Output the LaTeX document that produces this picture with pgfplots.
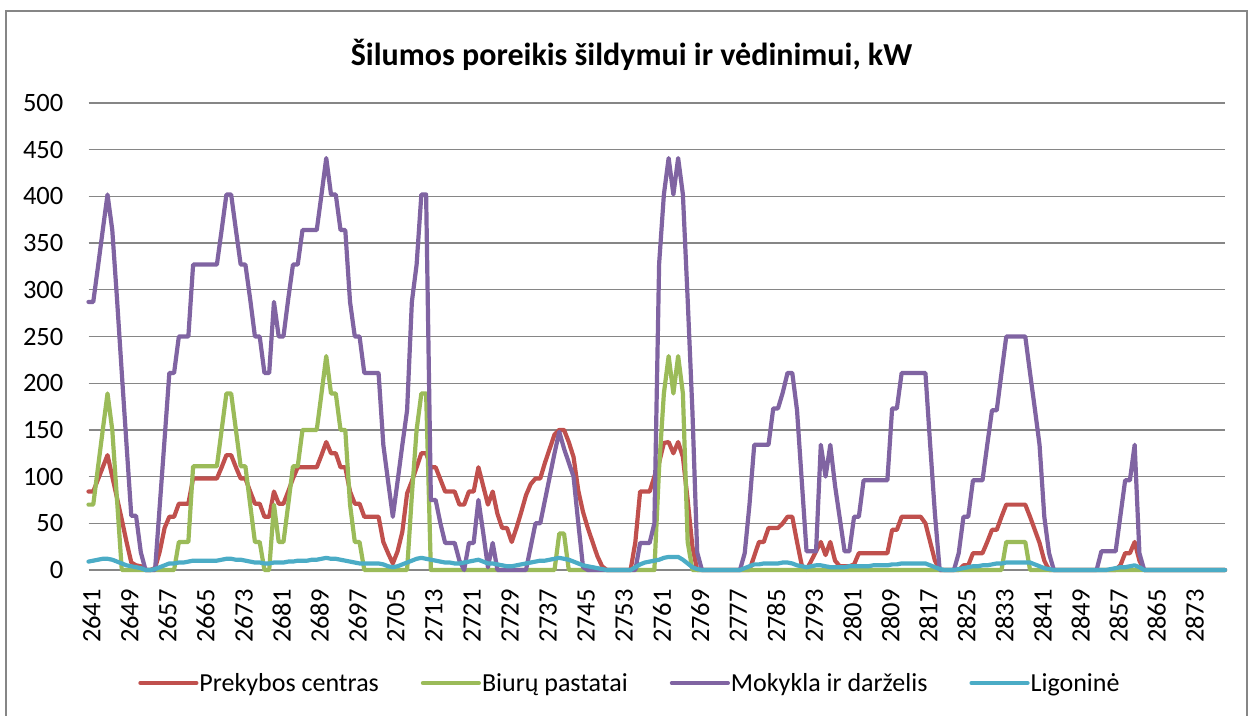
\documentclass[border=0pt]{standalone}
\usepackage{pgfplots}
\pgfplotsset{compat=1.18}
\usepackage{pgfplotstable}
\usepackage{fontspec}
\setmainfont{Carlito}
\definecolor{cRed}{HTML}{C0504D}
\definecolor{cGreen}{HTML}{9BBB59}
\definecolor{cPurple}{HTML}{8064A2}
\definecolor{cCyan}{HTML}{4BACC6}
\definecolor{cGrid}{HTML}{868686}

\pgfplotstableread{
n r g p c
2641 84 70 287 9
2642 84 70 287 10
2643 97 110 325 11
2644 110 150 364 12
2645 123 189 402 12
2646 100 150 364 11
2647 77 75 290 9
2648 54 0 211 7
2649 30 0 134 5
2650 8 0 58 4
2651 5 0 58 3
2652 4 0 19 2
2653 0 0 0 0
2654 0 0 0 0
2655 2 0 0 1
2656 20 0 70 3
2657 45 0 140 5
2658 57 0 211 7
2659 57 0 211 7
2660 71 30 250 8
2661 71 30 250 8
2662 71 30 250 9
2663 98 111 327 10
2664 98 111 327 10
2665 98 111 327 10
2666 98 111 327 10
2667 98 111 327 10
2668 98 111 327 10
2669 110 150 364 11
2670 123 189 402 12
2671 123 189 402 12
2672 110 150 364 11
2673 98 111 327 11
2674 98 111 327 10
2675 84 70 290 9
2676 71 30 250 8
2677 71 30 250 8
2678 57 0 211 7
2679 57 0 211 7
2680 84 70 287 8
2681 71 30 250 8
2682 71 30 250 8
2683 84 70 290 9
2684 98 111 327 9
2685 110 111 327 10
2686 110 150 364 10
2687 110 150 364 10
2688 110 150 364 11
2689 110 150 364 11
2690 123 189 402 12
2691 137 229 441 13
2692 125 189 402 12
2693 125 189 402 12
2694 110 150 364 11
2695 110 150 364 10
2696 84 70 287 9
2697 71 30 250 8
2698 71 30 250 7
2699 57 0 211 7
2700 57 0 211 7
2701 57 0 211 7
2702 57 0 211 7
2703 30 0 134 6
2704 18 0 95 4
2705 7 0 57 3
2706 20 0 95 4
2707 41 0 134 6
2708 82 0 171 8
2709 95 80 287 10
2710 110 150 327 12
2711 125 189 402 13
2712 125 189 402 12
2713 110 0 75 11
2714 110 0 75 10
2715 97 0 50 9
2716 84 0 29 8
2717 84 0 29 8
2718 84 0 29 7
2719 70 0 10 7
2720 70 0 0 8
2721 84 0 29 9
2722 84 0 29 10
2723 110 0 75 11
2724 90 0 40 9
2725 70 0 3 7
2726 84 0 29 7
2727 60 0 0 6
2728 45 0 0 5
2729 45 0 0 4
2730 30 0 0 4
2731 45 0 0 5
2732 62 0 0 6
2733 80 0 0 7
2734 92 0 25 8
2735 98 0 50 9
2736 98 0 50 10
2737 115 0 75 10
2738 130 0 100 11
2739 145 0 125 12
2740 150 39 148 13
2741 150 39 130 12
2742 137 0 115 11
2743 121 0 100 9
2744 85 0 50 7
2745 62 0 3 5
2746 45 0 0 4
2747 30 0 0 3
2748 15 0 0 2
2749 4 0 0 1
2750 0 0 0 0
2751 0 0 0 0
2752 0 0 0 0
2753 0 0 0 0
2754 0 0 0 0
2755 0 0 0 0
2756 30 0 0 3
2757 84 0 29 6
2758 84 0 29 8
2759 84 0 29 9
2760 100 0 50 10
2761 115 110 328 11
2762 136 189 402 13
2763 137 229 441 14
2764 125 189 402 14
2765 137 229 441 14
2766 121 189 402 11
2767 75 30 290 7
2768 25 0 170 3
2769 0 0 19 1
2770 0 0 0 0
2771 0 0 0 0
2772 0 0 0 0
2773 0 0 0 0
2774 0 0 0 0
2775 0 0 0 0
2776 0 0 0 0
2777 0 0 0 0
2778 0 0 0 0
2779 0 0 18 2
2780 0 0 70 4
2781 15 0 134 6
2782 30 0 134 6
2783 30 0 134 7
2784 45 0 134 7
2785 45 0 173 7
2786 45 0 173 7
2787 50 0 190 8
2788 57 0 211 8
2789 57 0 211 7
2790 30 0 171 5
2791 5 0 95 4
2792 0 0 20 3
2793 10 0 20 4
2794 20 0 20 5
2795 30 0 134 5
2796 16 0 100 4
2797 30 0 134 3
2798 10 0 90 3
2799 4 0 55 3
2800 4 0 20 3
2801 4 0 20 4
2802 6 0 57 4
2803 18 0 57 4
2804 18 0 96 4
2805 18 0 96 4
2806 18 0 96 5
2807 18 0 96 5
2808 18 0 96 5
2809 18 0 96 5
2810 43 0 173 6
2811 43 0 173 6
2812 57 0 211 7
2813 57 0 211 7
2814 57 0 211 7
2815 57 0 211 7
2816 57 0 211 7
2817 50 0 211 7
2818 30 0 134 5
2819 10 0 60 3
2820 0 0 0 1
2821 0 0 0 0
2822 0 0 0 0
2823 0 0 0 0
2824 0 0 18 1
2825 5 0 57 2
2826 5 0 57 3
2827 18 0 96 4
2828 18 0 96 4
2829 18 0 96 5
2830 30 0 134 5
2831 43 0 171 6
2832 43 0 171 7
2833 57 0 211 7
2834 70 30 250 8
2835 70 30 250 8
2836 70 30 250 8
2837 70 30 250 8
2838 70 30 250 8
2839 57 0 211 8
2840 43 0 173 6
2841 29 0 134 4
2842 10 0 57 2
2843 0 0 18 1
2844 0 0 0 0
2845 0 0 0 0
2846 0 0 0 0
2847 0 0 0 0
2848 0 0 0 0
2849 0 0 0 0
2850 0 0 0 0
2851 0 0 0 0
2852 0 0 0 0
2853 0 0 0 0
2854 0 0 20 0
2855 0 0 20 0
2856 0 0 20 1
2857 0 0 20 2
2858 5 0 58 3
2859 18 0 96 3
2860 18 0 96 4
2861 30 0 134 5
2862 10 0 18 3
2863 0 0 0 0
2864 0 0 0 0
2865 0 0 0 0
2866 0 0 0 0
2867 0 0 0 0
2868 0 0 0 0
2869 0 0 0 0
2870 0 0 0 0
2871 0 0 0 0
2872 0 0 0 0
2873 0 0 0 0
2874 0 0 0 0
2875 0 0 0 0
2876 0 0 0 0
2877 0 0 0 0
2878 0 0 0 0
2879 0 0 0 0
2880 0 0 0 0
}\data

\begin{document}
\begin{tikzpicture}[x=1pt,y=1pt]
\useasboundingbox (0,0) rectangle (1258,715);
\fill[white] (0,0) rectangle (1258,715);
\draw[cGrid, line width=1.3pt] (6,-5) -- (6,704) -- (1247,704) -- (1247,-5);
\begin{axis}[
  at={(88.5pt,145pt)}, anchor=south west,
  width=1136.5pt, height=467pt, scale only axis,
  xmin=2641, xmax=2880, ymin=0, ymax=500,
  clip=false,
  axis line style={draw=none},
  major tick length=0pt,
  ytick={0,50,100,150,200,250,300,350,400,450,500},
  xtick={2641,2649,2657,2665,2673,2681,2689,2697,2705,2713,2721,2729,2737,2745,2753,2761,2769,2777,2785,2793,2801,2809,2817,2825,2833,2841,2849,2857,2865,2873},
  ymajorgrids, grid style={cGrid, line width=1.3pt},
  tick label style={font=\fontsize{26.5}{30}\selectfont},
  /pgf/number format/assume math mode=true,
  /pgf/number format/set thousands separator={},
  yticklabel style={inner sep=0pt, anchor=east},
  yticklabel shift=25pt,
  xticklabel style={inner sep=0pt, rotate=90, anchor=east, xshift=-19pt, yshift=-3pt},
  legend columns=4,
  legend style={at={(0.0410,-0.242)}, anchor=west, draw=none, fill=none,
    font=\fontsize{26}{30}\selectfont, nodes={inner sep=0pt},
    /tikz/every odd column/.append style={column sep=1pt},
    /tikz/every even column/.append style={column sep=42pt}},
  legend image code/.code={\draw[#1, line cap=round] (0pt,0pt) -- (56pt,0pt);},
  every axis plot/.append style={line width=4.2pt, line join=round, line cap=round},
  no markers,
]
\addplot[cRed] table[x=n, y=r] {\data};
\addlegendentry{Prekybos centras}
\addplot[cGreen] table[x=n, y=g] {\data};
\addlegendentry{Biurų pastatai}
\addplot[cPurple] table[x=n, y=p] {\data};
\addlegendentry{Mokykla ir darželis}
\addplot[cCyan] table[x=n, y=c] {\data};
\addlegendentry{Ligoninė}
\end{axis}
\node[anchor=base, font=\fontsize{32}{38}\selectfont\bfseries] at (631.5,649) {Šilumos poreikis šildymui ir vėdinimui, kW};
\end{tikzpicture}
\end{document}
